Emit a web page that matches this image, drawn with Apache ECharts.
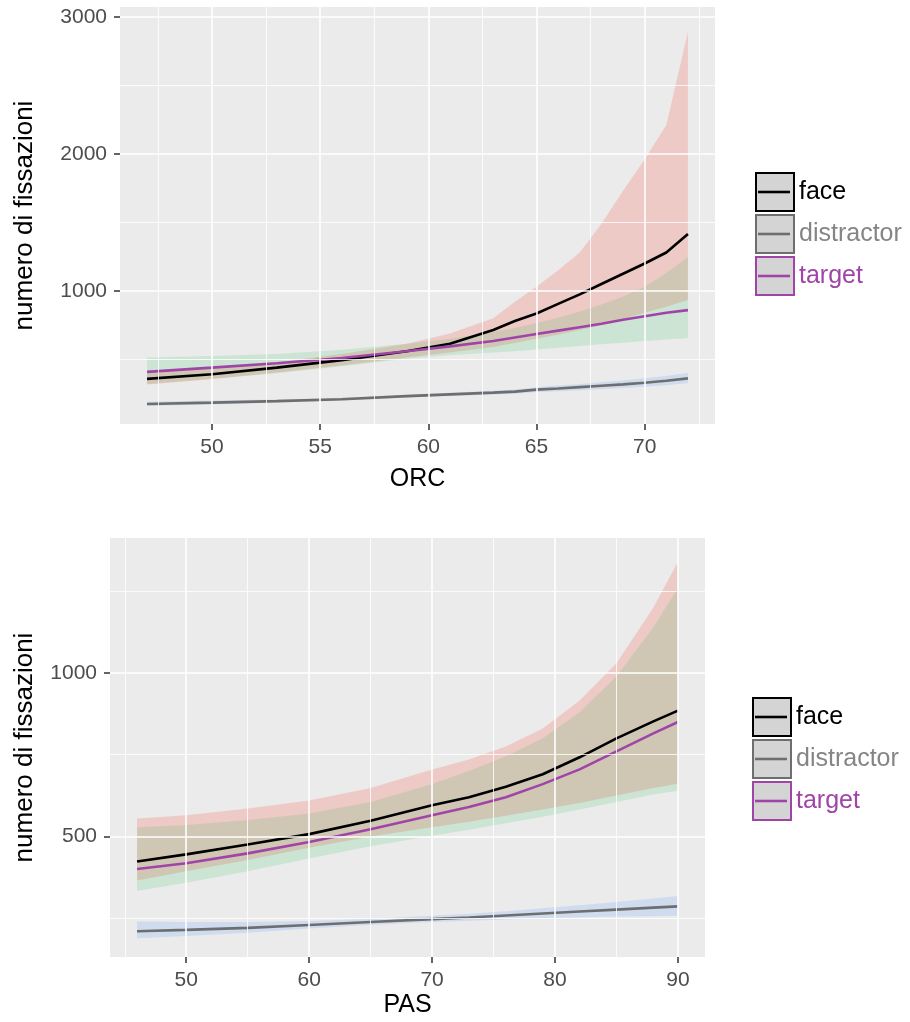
<!DOCTYPE html>
<html><head><meta charset="utf-8">
<script src="https://cdn.jsdelivr.net/npm/echarts@6/dist/echarts.min.js"></script>
<style>html,body{margin:0;padding:0;background:#fff}#c{width:910px;height:1022px}</style>
</head><body><div id="c"></div>
<script>
// ---------- DATA: top panel (ORC) ----------
const orcX        = [47, 50, 53, 56, 59, 61, 63, 64, 65, 66, 67, 68, 69, 70, 71, 72];
const orcFace     = [358, 392, 440, 495, 560, 615, 715, 780, 835, 905, 975, 1050, 1125, 1200, 1280, 1415];
const orcFaceLo   = [318, 355, 405, 455, 515, 550, 590, 620, 650, 680, 715, 750, 795, 840, 885, 934];
const orcFaceHi   = [405, 435, 480, 540, 615, 690, 800, 920, 1030, 1150, 1280, 1490, 1730, 1960, 2210, 2890];
const orcTarget   = [409, 440, 472, 510, 560, 595, 635, 660, 685, 710, 735, 760, 790, 815, 840, 860];
const orcTargetLo = [320, 360, 400, 450, 505, 530, 550, 560, 572, 585, 598, 610, 622, 635, 646, 657];
const orcTargetHi = [515, 525, 540, 570, 615, 650, 700, 730, 765, 805, 850, 900, 960, 1030, 1130, 1248];
const orcDist     = [175, 185, 196, 210, 232, 245, 258, 265, 280, 288, 298, 308, 318, 330, 345, 362];
const orcDistLo   = [160, 172, 185, 200, 222, 234, 245, 250, 262, 268, 276, 284, 292, 300, 312, 328];
const orcDistHi   = [192, 200, 208, 221, 243, 257, 272, 281, 298, 309, 321, 333, 346, 362, 380, 402];
const orcXTicks   = [50, 55, 60, 65, 70];
const orcXMinor   = [47.5, 52.5, 57.5, 62.5, 67.5, 72.5];
const orcYTicks   = [1000, 2000, 3000];
const orcYMinor   = [500, 1500, 2500];

// ---------- DATA: bottom panel (PAS) ----------
const pasX        = [46, 50, 55, 60, 65, 70, 73, 76, 79, 82, 85, 88, 90];
const pasFace     = [423, 445, 475, 507, 548, 595, 620, 652, 690, 742, 800, 852, 885];
const pasFaceLo   = [365, 393, 428, 465, 500, 528, 545, 563, 582, 602, 625, 648, 661];
const pasFaceHi   = [555, 565, 585, 610, 648, 705, 735, 775, 830, 916, 1030, 1200, 1340];
const pasTarget   = [400, 418, 448, 483, 522, 565, 590, 620, 660, 705, 760, 815, 850];
const pasTargetLo = [333, 358, 393, 432, 470, 502, 520, 540, 560, 582, 605, 628, 640];
const pasTargetHi = [528, 535, 550, 570, 605, 660, 700, 745, 800, 880, 990, 1140, 1260];
const pasDist     = [210, 214, 220, 229, 238, 247, 252, 258, 264, 270, 276, 282, 286];
const pasDistLo   = [188, 195, 205, 218, 230, 238, 242, 246, 250, 253, 255, 256, 257];
const pasDistHi   = [240, 238, 238, 241, 247, 257, 263, 271, 280, 289, 299, 310, 318];
const pasXTicks   = [50, 60, 70, 80, 90];
const pasXMinor   = [45, 55, 65, 75, 85];
const pasYTicks   = [500, 1000];
const pasYMinor   = [250, 750, 1250];

const groups      = ['face', 'distractor', 'target'];
const yTitle      = 'numero di fissazioni';

// ---------- STYLE ----------
const FONT = "'Liberation Sans', Arial, sans-serif";
const lineCol = { face: '#000000', distractor: '#6E6E6E', target: '#A044A8' };
const textCol = { face: '#000000', distractor: '#858585', target: '#A044A8' };
const fillCol = { face: 'rgba(248,118,109,0.28)', distractor: 'rgba(97,156,255,0.2)', target: 'rgba(0,186,56,0.13)' };

const chart = echarts.init(document.getElementById('c'), null, { renderer: 'canvas' });

function pairs(xs, ys) { return xs.map((x, i) => [x, ys[i]]); }

function band(name, xs, lo, hi, color, gi) {
  const data = xs.map((x, i) => [x, lo[i], hi[i]]);
  return {
    type: 'custom', name: name, xAxisIndex: gi, yAxisIndex: gi, z: 2, silent: true,
    animation: false, data: data, encode: { x: 0, y: [1, 2] },
    renderItem: function (params, api) {
      if (params.dataIndex !== 0) return null;
      const top = [], bot = [];
      for (let i = 0; i < data.length; i++) {
        top.push(api.coord([data[i][0], data[i][2]]));
        bot.push(api.coord([data[i][0], data[i][1]]));
      }
      return { type: 'polygon', shape: { points: top.concat(bot.reverse()) }, style: { fill: color } };
    }
  };
}

function line(name, xs, ys, gi) {
  return {
    type: 'line', name: name, xAxisIndex: gi, yAxisIndex: gi, data: pairs(xs, ys),
    showSymbol: false, symbol: 'none', z: 3, animation: false, silent: true,
    lineStyle: { color: lineCol[name], width: 2.6 }, itemStyle: { color: lineCol[name] }
  };
}

function gridLines(gi, xMaj, xMin, yMaj, yMin) {
  const d = [];
  xMin.forEach(v => d.push({ xAxis: v, lineStyle: { width: 0.8 } }));
  yMin.forEach(v => d.push({ yAxis: v, lineStyle: { width: 0.8 } }));
  xMaj.forEach(v => d.push({ xAxis: v, lineStyle: { width: 1.6 } }));
  yMaj.forEach(v => d.push({ yAxis: v, lineStyle: { width: 1.6 } }));
  return {
    type: 'line', name: 'grid' + gi, xAxisIndex: gi, yAxisIndex: gi, data: [], z: 1, silent: true,
    animation: false,
    markLine: { silent: true, symbol: ['none', 'none'], animation: false, label: { show: false },
      lineStyle: { color: '#ffffff', type: 'solid' }, emphasis: { disabled: true }, data: d }
  };
}

const plain = v => String(v);

function xAxis(gi, min, max, ticks, name, gap) {
  return {
    type: 'value', gridIndex: gi, min: min, max: max,
    name: name, nameLocation: 'middle', nameGap: gap,
    nameTextStyle: { fontSize: 25, color: '#000', fontFamily: FONT },
    axisLine: { show: false },
    axisTick: { show: true, customValues: ticks, length: 6, lineStyle: { color: '#333', width: 1.5 } },
    axisLabel: { show: true, customValues: ticks, formatter: plain, fontSize: 21, color: '#4D4D4D', fontFamily: FONT, margin: 13 },
    splitLine: { show: false }, minorSplitLine: { show: false }
  };
}
function yAxis(gi, min, max, ticks, gap) {
  return {
    type: 'value', gridIndex: gi, min: min, max: max,
    name: yTitle, nameLocation: 'middle', nameGap: gap, nameRotate: 90,
    nameTextStyle: { fontSize: 26, color: '#000', fontFamily: FONT },
    axisLine: { show: false },
    axisTick: { show: true, customValues: ticks, length: 6, lineStyle: { color: '#333', width: 1.5 } },
    axisLabel: { show: true, customValues: ticks, formatter: plain, fontSize: 21, color: '#4D4D4D', fontFamily: FONT, margin: 13 },
    splitLine: { show: false }, minorSplitLine: { show: false }
  };
}

const LEG_GAP = 2, LEG_STEP = 42;

function legend(left, top) {
  return {
    orient: 'vertical', left: left, top: top, itemWidth: 38, itemHeight: 38, itemGap: LEG_GAP,
    icon: 'rect', selectedMode: false, padding: 0,
    textStyle: { fontSize: 25, fontFamily: FONT },
    data: groups.map(g => ({
      name: g,
      itemStyle: { color: '#D4D4D4', borderColor: lineCol[g], borderWidth: 2 },
      textStyle: { color: textCol[g], fontSize: 25, fontFamily: FONT }
    }))
  };
}

function legendLines(left, top) {
  return groups.map((g, i) => ({
    type: 'line', silent: true, z: 100,
    shape: { x1: left + 3, y1: top + 20 + i * LEG_STEP, x2: left + 35, y2: top + 20 + i * LEG_STEP },
    style: { stroke: lineCol[g], lineWidth: 2.6 }
  }));
}

const series = [
  gridLines(0, orcXTicks, orcXMinor, orcYTicks, orcYMinor),
  band('face CI', orcX, orcFaceLo, orcFaceHi, fillCol.face, 0),
  band('distractor CI', orcX, orcDistLo, orcDistHi, fillCol.distractor, 0),
  band('target CI', orcX, orcTargetLo, orcTargetHi, fillCol.target, 0),
  line('face', orcX, orcFace, 0),
  line('distractor', orcX, orcDist, 0),
  line('target', orcX, orcTarget, 0),
  gridLines(1, pasXTicks, pasXMinor, pasYTicks, pasYMinor),
  band('face CI', pasX, pasFaceLo, pasFaceHi, fillCol.face, 1),
  band('distractor CI', pasX, pasDistLo, pasDistHi, fillCol.distractor, 1),
  band('target CI', pasX, pasTargetLo, pasTargetHi, fillCol.target, 1),
  line('face', pasX, pasFace, 1),
  line('distractor', pasX, pasDist, 1),
  line('target', pasX, pasTarget, 1)
];

chart.setOption({
  animation: false,
  backgroundColor: '#ffffff',
  textStyle: { fontFamily: FONT },
  grid: [
    { left: 120, top: 7, width: 595, height: 417, show: true, backgroundColor: '#EBEBEB', borderWidth: 0, containLabel: false, outerBoundsMode: 'none' },
    { left: 110, top: 538, width: 595, height: 419, show: true, backgroundColor: '#EBEBEB', borderWidth: 0, containLabel: false, outerBoundsMode: 'none' }
  ],
  xAxis: [
    xAxis(0, 45.75, 73.25, orcXTicks, 'ORC', 43),
    xAxis(1, 43.8, 92.2, pasXTicks, 'PAS', 36)
  ],
  yAxis: [
    yAxis(0, 29, 3071, orcYTicks, 82),
    yAxis(1, 131, 1413, pasYTicks, 72)
  ],
  legend: [legend(755, 172), legend(752, 697)],
  graphic: legendLines(755, 172).concat(legendLines(752, 697)),
  series: series
});
</script>
</body></html>
